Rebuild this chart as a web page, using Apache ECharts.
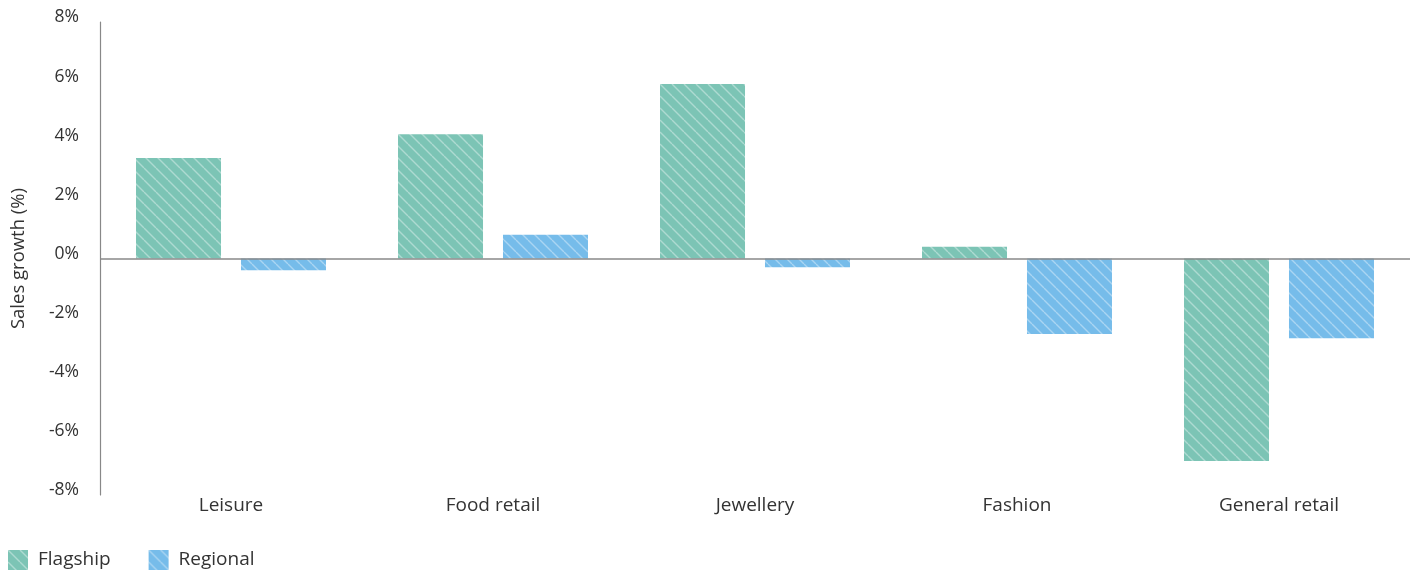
<!DOCTYPE html>
<html>
<head>
<meta charset="utf-8">
<script src="https://cdn.jsdelivr.net/npm/echarts@6/dist/echarts.min.js"></script>
<style>
  html, body { margin: 0; padding: 0; background: #fff; }
  #chart { width: 1415px; height: 571px; }
</style>
</head>
<body>
<div id="chart"></div>
<script>
// sales growth by category (%)
const categories = ['Leisure', 'Food retail', 'Jewellery', 'Fashion', 'General retail'];
const flagship = [3.4, 4.2, 5.9, 0.4, -6.85];
const regional = [-0.4, 0.8, -0.3, -2.55, -2.7];
const yTicks = { min: -8, max: 8, interval: 2 };

// hatched fill: base colour with thin white diagonal lines
function hatch(base) {
  const size = 12;
  const c = document.createElement('canvas');
  c.width = size;
  c.height = size;
  const ctx = c.getContext('2d');
  ctx.fillStyle = base;
  ctx.fillRect(0, 0, size, size);
  ctx.strokeStyle = 'rgba(255,255,255,0.38)';
  ctx.lineWidth = 1.4;
  [-size, 0, size].forEach((k) => {
    ctx.beginPath();
    ctx.moveTo(k, 0);
    ctx.lineTo(k + size, size);
    ctx.stroke();
  });
  return { image: c, repeat: 'repeat' };
}

const chart = echarts.init(document.getElementById('chart'));
const font = '"Open Sans", "Noto Sans", sans-serif';

chart.setOption({
  animation: false,
  textStyle: { fontFamily: font },
  grid: { left: 100, right: 5, top: 22, bottom: 76, containLabel: false, outerBoundsMode: 'none' },
  legend: {
    left: 8,
    top: 550,
    padding: 0,
    icon: 'rect',
    itemWidth: 20,
    itemHeight: 20,
    itemGap: 38,
    textStyle: { fontSize: 19, color: '#333', fontFamily: font, padding: [0, 0, 0, 5] },
    data: ['Flagship', 'Regional'],
  },
  xAxis: {
    type: 'category',
    data: categories,
    axisLine: { show: false, onZero: false },
    axisTick: { show: false },
    axisLabel: { color: '#333', fontSize: 19, margin: 1, fontFamily: font },
  },
  yAxis: {
    type: 'value',
    min: yTicks.min,
    max: yTicks.max,
    interval: yTicks.interval,
    name: 'Sales growth (%)',
    nameLocation: 'middle',
    nameGap: 72,
    nameTextStyle: { fontSize: 18.5, color: '#333', fontFamily: font },
    axisLine: { show: true, lineStyle: { color: '#888', width: 1.2 } },
    axisTick: { show: false },
    splitLine: { show: false },
    axisLabel: {
      color: '#333',
      fontSize: 17.5,
      margin: 21,
      fontFamily: font,
      verticalAlign: 'bottom',
      lineHeight: 9,
      formatter: (v) => v + '%',
    },
  },
  series: [
    {
      name: 'Flagship',
      type: 'bar',
      barWidth: 85,
      barGap: '23.5%',
      itemStyle: { color: hatch('#7cc4b5') },
      data: flagship,
      markLine: {
        silent: true,
        symbol: 'none',
        label: { show: false },
        lineStyle: { color: '#888', width: 1.5, type: 'solid' },
        data: [{ yAxis: 0 }],
      },
    },
    {
      name: 'Regional',
      type: 'bar',
      barWidth: 85,
      itemStyle: { color: hatch('#76bcea') },
      data: regional,
    },
  ],
});
window.addEventListener('resize', () => { chart.resize(); });
</script>
</body>
</html>
